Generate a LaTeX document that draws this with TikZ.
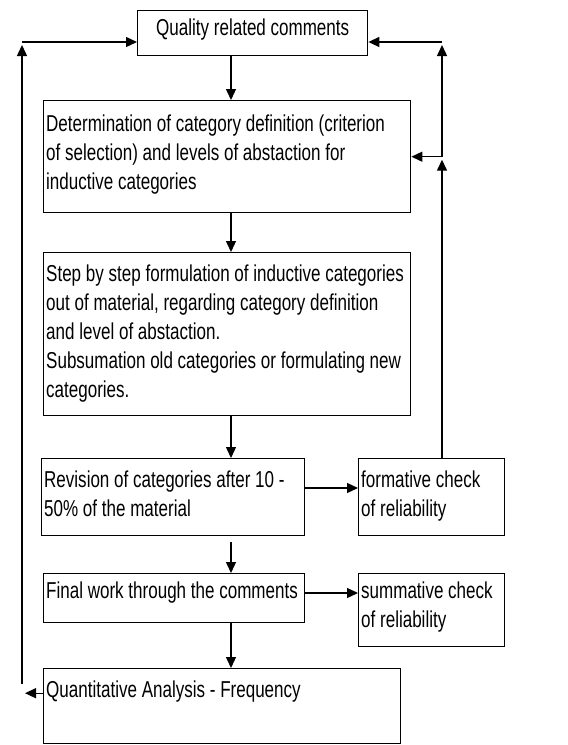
\documentclass[tikz,border=0pt]{standalone}
\usepackage{fontspec}
\setmainfont{Liberation Sans}[FakeStretch=0.74]
\usetikzlibrary{arrows.meta}
\hyphenpenalty=10000
\exhyphenpenalty=10000

\begin{document}
\begin{tikzpicture}  % ------ Inductive category formation --------
      [x=1pt,y=-1pt, line width=1.4pt,
       box/.style={draw, anchor=north west, align=left, inner xsep=2.5pt, inner ysep=0pt,
                   font=\fontsize{23}{29}\selectfont,
                   execute at begin node={\spaceskip=.206em\xspaceskip=.206em\relax}},
       arr/.style={-{Triangle[length=11pt,width=10pt]}}]

    \useasboundingbox (0,0) rectangle (568,745);

    \coordinate (L) at (22,42);    % left return line
    \coordinate (R) at (442,42);   % right return line
    \coordinate (M) at (231,0);    % main column

    \node[box, align=center, text width=225pt, text height=25pt, text depth=20pt] (qual) at (137,10)
         {Quality related comments};
    \node[box, text width=362pt, text height=31pt, text depth=81pt] (det) at (43,100)
         {Determination of category definition (criterion\\of selection) and levels of abstaction for\\inductive categories};
    \node[box, text width=362pt, text height=29pt, text depth=134pt] (steps) at (43,252)
         {Step by step formulation of inductive categories\\out of material, regarding category definition\\and level of abstaction.\\Subsumation old categories or formulating new\\categories.};
    \node[box, text width=258pt, text height=29pt, text depth=48pt] (rev) at (41,458)
         {Revision of categories after 10 -\\50\% of the material};
    \node[box, text width=141pt, text height=29pt, text depth=48pt] (form) at (358,458)
         {formative check\\of reliability};
    \node[box, text width=256pt, text height=25pt, text depth=24pt] (final) at (43,573)
         {Final work through the comments};
    \node[box, text width=141pt, text height=25pt, text depth=48pt] (summ) at (358,573)
         {summative check\\of reliability};
    \node[box, text width=352pt, text height=29pt, text depth=46pt] (quant) at (43,668)
         {Quantitative Analysis - Frequency};

    % main column
    \draw[arr] (qual.south -| M) -- (det.north -| M);
    \draw[arr] (det.south -| M) -- (steps.north -| M);
    \draw[arr] (steps.south -| M) -- (rev.north -| M);
    \draw[arr] (rev.south -| M) ++(0,6) -- (final.north -| M);
    \draw[arr] (final.south -| M) -- (quant.north -| M);

    % checks of reliability
    \draw[arr] ([yshift=-30pt]rev.north east) -- ([yshift=-30pt]form.north west);
    \draw[arr] ([yshift=-20pt]final.north east) -- ([yshift=-20pt]summ.north west);

    % right return
    \draw[arr, shorten >=3pt] (form.north -| R) -- (det.east -| R);
    \draw[arr] (det.east -| R) -- (det.east);
    \draw[arr, shorten >=3pt] (det.east -| R) -- (R);
    \draw[arr] (R) -- (qual.east |- R);

    % left return
    \coordinate (Q) at ([yshift=13pt]quant.west);
    \draw[arr, shorten >=3pt] (Q) -- (Q -| L);
    \draw[arr, shorten >=3pt] (Q -| L) ++(0,-9) -- (L);
    \draw[arr] (L) -- (qual.west |- L);
\end{tikzpicture}
\end{document}
